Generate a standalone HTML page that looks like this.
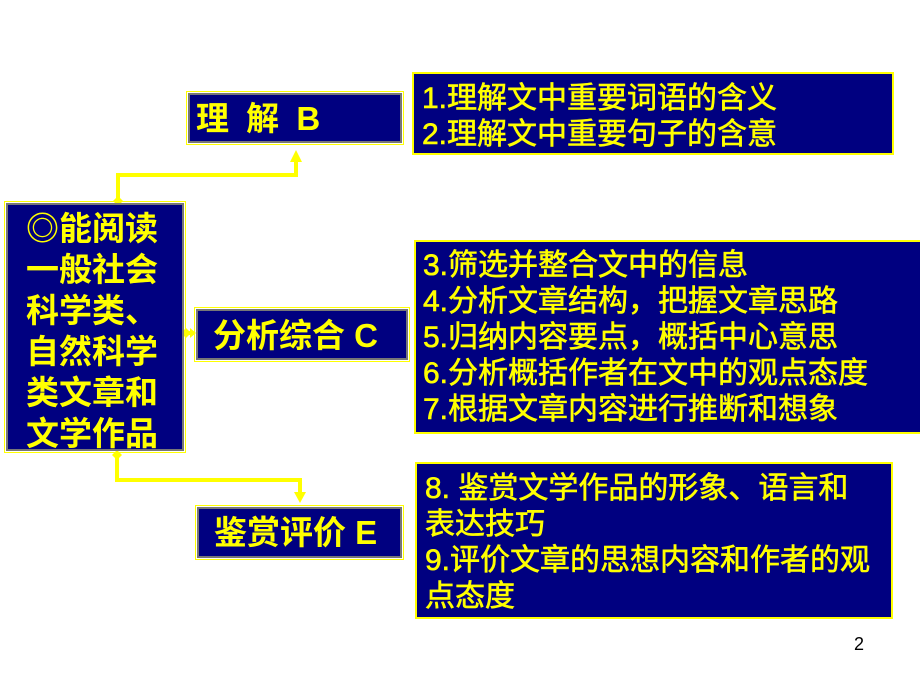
<!DOCTYPE html>
<html><head><meta charset="utf-8"><style>
body{margin:0;width:920px;height:690px;background:#fff;position:relative;overflow:hidden;font-family:"Liberation Sans","Noto Sans CJK SC",sans-serif;font-weight:bold;color:#ff0}
.b{position:absolute;background:#000080;box-sizing:border-box;border:2px solid #ff0;}
.d{outline:1px solid #ff0;outline-offset:1px;border:2px solid #777;}
.t{position:absolute;white-space:nowrap}
.r{font-size:30px;line-height:36px;font-weight:normal;-webkit-text-stroke:0.6px #ff0}
</style></head><body>
<svg width="920" height="690" style="position:absolute;left:0;top:0">
<g stroke="#ff0" stroke-width="4" fill="none">
<polyline points="118,200 118,175 296,175 296,158"/>
<polyline points="117,458 117,480 300,480 300,496"/>
<line x1="186" y1="333" x2="192" y2="333"/>
</g>
<g fill="#ff0">
<polygon points="296,150 290,162 302,162"/>
<polygon points="300,503 294,492 306,492"/>
<polygon points="118,196 113,201 118,206 123,201"/>
<polygon points="117,450 112,455 117,460 122,455"/>
<polygon points="181,333 186,328 191,333 186,338"/>
<polygon points="196,333 190,328 190,338"/>
</g>
</svg>
<div class="b d" style="left:6px;top:203px;width:178px;height:248px"></div>
<div class="t" style="left:26px;top:208px;font-size:33px;line-height:41px">◎能阅读<br>一般社会<br>科学类、<br>自然科学<br>类文章和<br>文学作品</div>
<div class="b d" style="left:188px;top:93px;width:214px;height:50px"></div>
<div class="t" style="left:196px;top:101px;font-size:33px;line-height:36px;word-spacing:8px">理 解 B</div>
<div class="b d" style="left:196px;top:309px;width:212px;height:51px"></div>
<div class="t" style="left:213px;top:318px;font-size:33px;line-height:36px">分析综合 C</div>
<div class="b d" style="left:197px;top:507px;width:205px;height:51px"></div>
<div class="t" style="left:214px;top:515px;font-size:33px;line-height:36px">鉴赏评价 E</div>
<div class="b" style="left:412px;top:72px;width:482px;height:83px"></div>
<div class="t r" style="left:422px;top:81px">1.理解文中重要词语的含义<br>2.理解文中重要句子的含意</div>
<div class="b" style="left:414px;top:240px;width:510px;height:194px"></div>
<div class="t r" style="left:423px;top:248px">3.筛选并整合文中的信息<br>4.分析文章结构，把握文章思路<br>5.归纳内容要点，概括中心意思<br>6.分析概括作者在文中的观点态度<br>7.根据文章内容进行推断和想象</div>
<div class="b" style="left:415px;top:462px;width:478px;height:157px"></div>
<div class="t r" style="left:425px;top:471px">8. 鉴赏文学作品的形象、语言和<br>表达技巧<br>9.评价文章的思想内容和作者的观<br>点态度</div>
<div class="t" style="left:854px;top:634px;font-size:18px;color:#000;font-weight:normal">2</div>
</body></html>
